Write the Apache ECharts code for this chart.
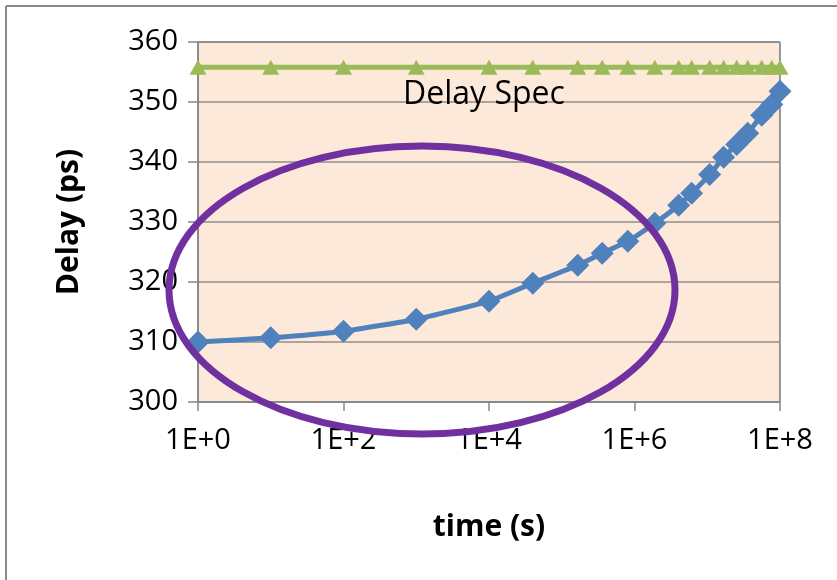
<!DOCTYPE html>
<html>
<head>
<meta charset="utf-8">
<script src="https://cdn.jsdelivr.net/npm/echarts@6/dist/echarts.min.js"></script>
<style>
html,body{margin:0;padding:0;background:#fff;}
#c{width:837px;height:580px;}
</style>
</head>
<body>
<div id="c"></div>
<script>
// Data
const times = [1, 10, 100, 1000, 1e4, 4e4, 1.66e5, 3.6e5, 8.1e5, 1.9e6, 4.05e6, 6.1e6, 1.08e7, 1.68e7, 2.54e7, 3.6e7, 5.6e7, 7.7e7, 1e8];
const delay = [310, 310.7, 311.8, 313.8, 316.8, 319.8, 322.8, 324.8, 326.8, 329.8, 332.8, 334.8, 337.9, 340.8, 342.9, 344.8, 347.8, 349.6, 351.8];
const spec = [355.8, 355.8, 355.8, 355.8, 355.8, 355.8, 355.8, 355.8, 355.8, 355.8, 355.8, 355.8, 355.8, 355.8, 355.8, 355.8, 355.8, 355.8, 355.8];
const yTicks = [300, 310, 320, 330, 340, 350, 360];
const xLabels = ['1E+0', '1E+2', '1E+4', '1E+6', '1E+8'];
const specLabel = 'Delay Spec';

const FONT = '"Open Sans", sans-serif';
const chart = echarts.init(document.getElementById('c'), null, {renderer: 'canvas'});
chart.setOption({
  backgroundColor: '#ffffff',
  animation: false,
  grid: {left: 198, right: 57, top: 42, bottom: 178, show: true, backgroundColor: '#FDE9D9', borderColor: '#3a3a3a', borderWidth: 1},
  xAxis: {
    type: 'log', logBase: 100, min: 1, max: 1e8,
    name: 'time (s)', nameLocation: 'middle', nameGap: 110,
    nameTextStyle: {fontFamily: FONT, fontSize: 30, fontWeight: 'bold', color: '#000'},
    axisLine: {show: true, lineStyle: {color: '#868686', width: 1.5}},
    axisTick: {show: true, length: 9, lineStyle: {color: '#868686', width: 1.5}},
    minorTick: {show: false},
    splitLine: {show: false},
    axisLabel: {fontFamily: FONT, fontSize: 29, color: '#000', margin: 24,
      formatter: function (v) { return '1E+' + Math.round(Math.log10(v)); }}
  },
  yAxis: {
    type: 'value', min: yTicks[0], max: yTicks[yTicks.length - 1], interval: 10,
    name: 'Delay (ps)', nameLocation: 'middle', nameGap: 114, nameRotate: 90,
    nameTextStyle: {fontFamily: FONT, fontSize: 30, fontWeight: 'bold', color: '#000'},
    axisLine: {show: true, lineStyle: {color: '#868686', width: 1.5}},
    axisTick: {show: true, inside: false, length: 10, lineStyle: {color: '#868686', width: 1.5}},
    splitLine: {show: true, lineStyle: {color: '#8c8c8c', width: 1.5}},
    axisLabel: {fontFamily: FONT, fontSize: 29, color: '#000', margin: 20}
  },
  series: [
    {
      type: 'line', name: 'Delay Spec', data: times.map((t, i) => [t, spec[i]]),
      symbol: 'triangle', symbolSize: [17, 15], showAllSymbol: true,
      lineStyle: {color: '#9BBB59', width: 5}, itemStyle: {color: '#9BBB59'}, z: 3
    },
    {
      type: 'line', name: 'Delay', data: times.map((t, i) => [t, delay[i]]),
      symbol: 'diamond', symbolSize: [23, 23], showAllSymbol: true, smooth: 0.15,
      lineStyle: {color: '#4F81BD', width: 5}, itemStyle: {color: '#4F81BD'}, z: 4
    }
  ],
  graphic: [
    {type: 'line', shape: {x1: 6, y1: 6, x2: 837, y2: 6}, style: {stroke: '#8a8a8a', lineWidth: 2}, z: 10},
    {type: 'line', shape: {x1: 6, y1: 6, x2: 6, y2: 580}, style: {stroke: '#8a8a8a', lineWidth: 2}, z: 10},
    {type: 'text', left: 403, top: 79, style: {text: specLabel, fontFamily: FONT, fontSize: 32, fill: '#000'}, z: 10},
    {type: 'ellipse', shape: {cx: 422, cy: 290, rx: 253, ry: 144}, style: {fill: 'none', stroke: '#7030A0', lineWidth: 7}, z: 20}
  ]
});
</script>
</body>
</html>
